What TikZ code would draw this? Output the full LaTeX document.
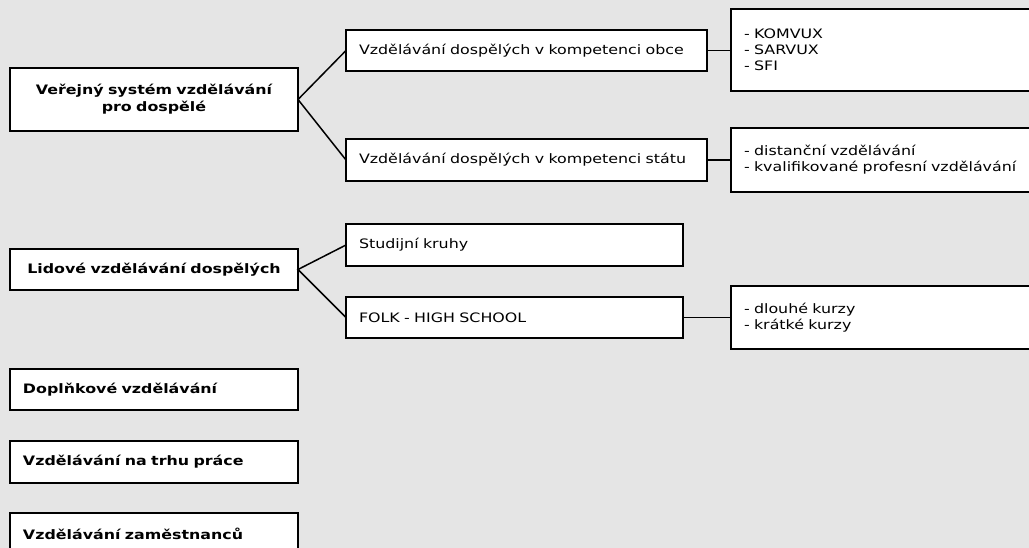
\documentclass[tikz,border=0pt]{standalone}
\usepackage{fontspec}
\setmainfont[FakeStretch=1.22]{DejaVu Sans}
\begin{document}
\begin{tikzpicture}[x=1pt,y=-1pt,
  box/.style={draw=black, fill=white, line width=1.8pt, outer sep=0pt,
    anchor=north west, inner xsep=13pt, inner ysep=0pt, align=left,
    font=\fontsize{13}{16}\selectfont},
  head/.style={box, font=\fontsize{13}{17}\selectfont\bfseries},
  link/.style={draw=black, line width=1.5pt}]
\useasboundingbox (0,0) rectangle (1029,548);
\fill[gray!20] (0,0) rectangle (1029,548);
\clip (0,0) rectangle (1029,548);

% first level
\node[head, align=center, minimum width=288pt, minimum height=63pt, text width=262pt] (pub) at (10,68) {Veřejný systém vzdělávání\\pro dospělé};
\node[head, align=center, minimum width=288pt, minimum height=41pt, text width=262pt] (lid) at (10,249) {Lidové vzdělávání dospělých};
\node[head, minimum width=288pt, minimum height=41pt, text width=262pt] (dopl) at (10,369) {Doplňkové vzdělávání};
\node[head, minimum width=288pt, minimum height=42pt, text width=262pt] (trh) at (10,441) {Vzdělávání na trhu práce};
\node[head, minimum width=288pt, minimum height=42pt, text width=262pt] (zam) at (10,513) {Vzdělávání zaměstnanců};

% second level
\node[box, minimum width=361pt, minimum height=41pt, text width=335pt] (obce) at (346,30) {Vzdělávání dospělých v kompetenci obce};
\node[box, minimum width=361pt, minimum height=42pt, text width=335pt] (statu) at (346,139) {Vzdělávání dospělých v kompetenci státu};
\node[box, minimum width=337pt, minimum height=42pt, text width=311pt] (stud) at (346,224) {Studijní kruhy};
\node[box, minimum width=337pt, minimum height=41pt, text width=311pt] (folk) at (346,297) {FOLK - HIGH SCHOOL};

% third level
\node[box, minimum width=369pt, minimum height=82pt, text width=343pt] (komvux) at (731,9) {- KOMVUX\\- SARVUX\\- SFI};
\node[box, minimum width=369pt, minimum height=64pt, text width=343pt] (dist) at (731,128) {- distanční vzdělávání\\- kvalifikované profesní vzdělávání};
\node[box, minimum width=369pt, minimum height=63pt, text width=343pt] (kurzy) at (731,286) {- dlouhé kurzy\\- krátké kurzy};

% connectors
\draw[link] (obce.west) -- (pub.east) -- (statu.west);
\draw[link] (stud.west) -- (lid.east) -- (folk.west);
\draw[link] (obce.east) -- (obce.east -| komvux.west);
\draw[link] (statu.east) -- (statu.east -| dist.west);
\draw[link] (folk.east) -- (folk.east -| kurzy.west);
\end{tikzpicture}
\end{document}
